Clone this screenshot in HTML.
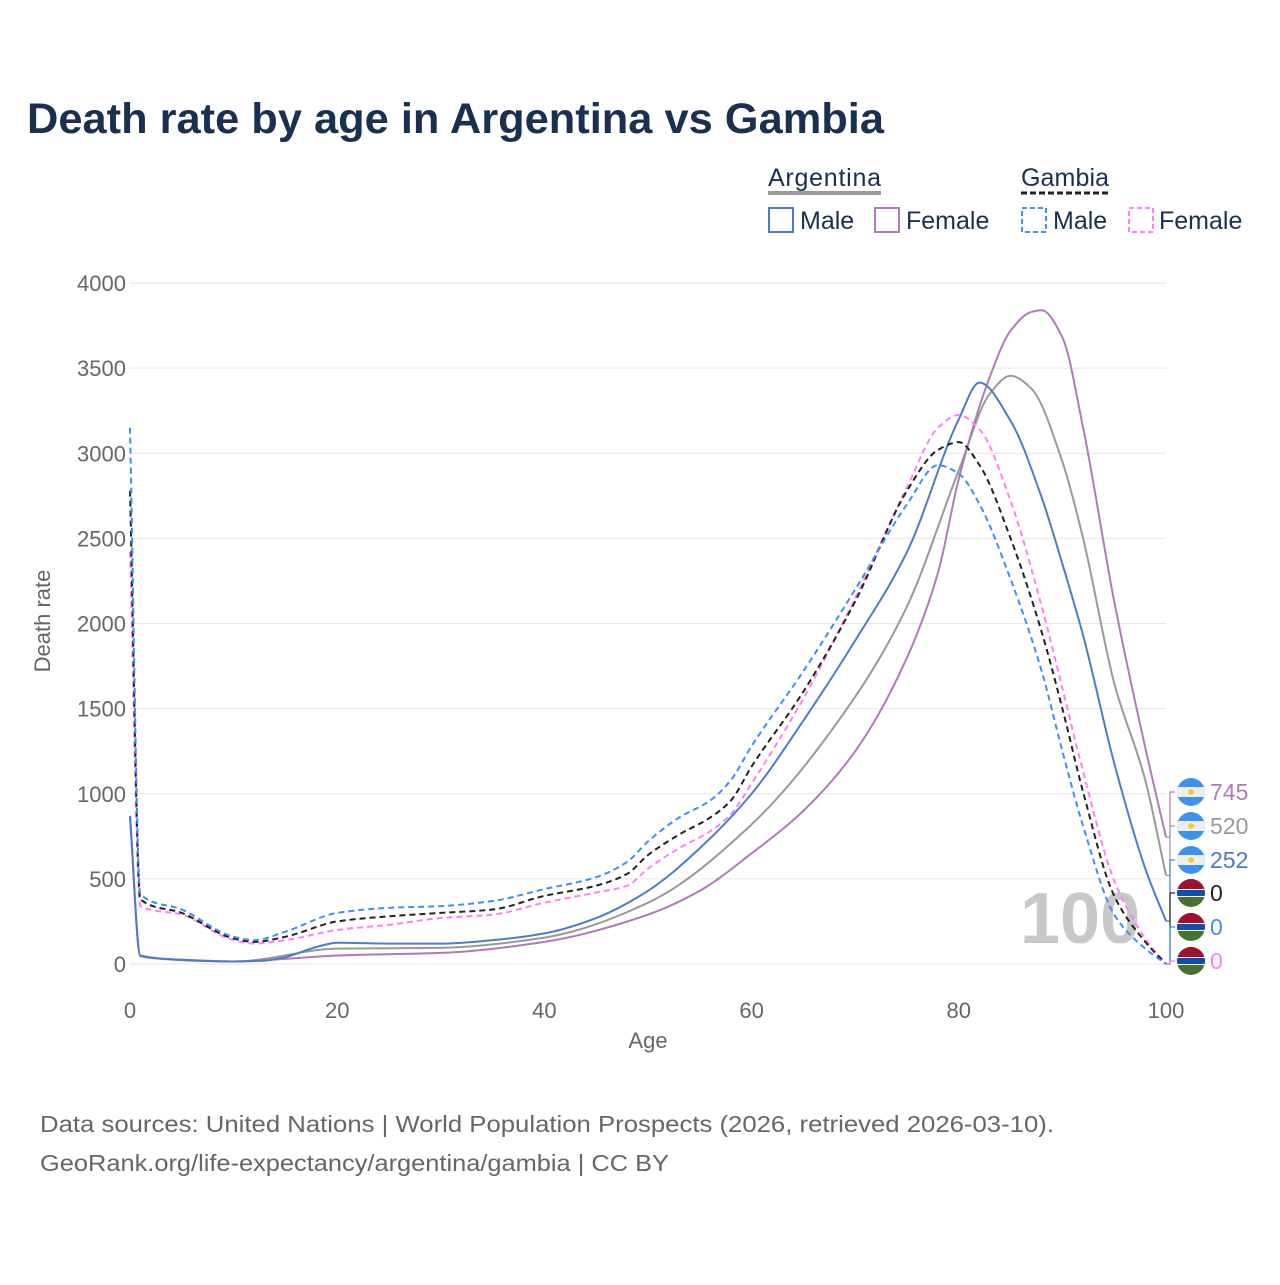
<!DOCTYPE html>
<html><head><meta charset="utf-8"><style>
body{margin:0;background:#fff;}
svg text{font-family:"Liberation Sans",sans-serif;}
</style></head><body>
<svg id="c" width="1280" height="1280" viewBox="0 0 1280 1280">
<defs><clipPath id="fc"><circle cx="0" cy="0" r="14"/></clipPath></defs>
<rect width="1280" height="1280" fill="#fff"/>
<text x="27" y="133" font-size="43" font-weight="bold" fill="#1a3050" textLength="857" lengthAdjust="spacingAndGlyphs">Death rate by age in Argentina vs Gambia</text>
<g font-size="25" fill="#1a3050">
<text x="768" y="186" textLength="113" fill="#1a3050">Argentina</text>
<line x1="768" y1="193" x2="881" y2="193" stroke="#999" stroke-width="4"/>
<text x="1021" y="186" textLength="88" fill="#1a3050">Gambia</text>
<line x1="1021" y1="193" x2="1109" y2="193" stroke="#222" stroke-width="3" stroke-dasharray="6,3"/>
<rect x="769" y="208" width="24" height="24" fill="none" stroke="#4c7cc9" stroke-width="2"/>
<text x="800" y="229" fill="#1a3050">Male</text>
<rect x="875" y="208" width="24" height="24" fill="none" stroke="#b07ab8" stroke-width="2"/>
<text x="906" y="229" fill="#1a3050">Female</text>
<rect x="1022" y="208" width="24" height="24" fill="none" stroke="#3d8ef7" stroke-width="2" stroke-dasharray="5,3"/>
<text x="1053" y="229" fill="#1a3050">Male</text>
<rect x="1129" y="208" width="24" height="24" fill="none" stroke="#ff80f0" stroke-width="2" stroke-dasharray="5,3"/>
<text x="1159" y="229" fill="#1a3050">Female</text>
</g>
<g id="grid"></g>
<text x="1020" y="943" font-size="72" font-weight="bold" fill="#c8c8c8">100</text>
<g id="lines"></g>
<g id="endlabels"></g>
<text x="648" y="1048" font-size="22" fill="#666" text-anchor="middle">Age</text>
<text x="50" y="621" font-size="22" fill="#666" text-anchor="middle" transform="rotate(-90 50 621)">Death rate</text>
<text x="40" y="1132" font-size="23" fill="#666" textLength="1014" lengthAdjust="spacingAndGlyphs">Data sources: United Nations | World Population Prospects (2026, retrieved 2026-03-10).</text>
<text x="40" y="1171" font-size="23" fill="#666" textLength="629" lengthAdjust="spacingAndGlyphs">GeoRank.org/life-expectancy/argentina/gambia | CC BY</text>
</svg>
<script>
const yTicks=[0,500,1000,1500,2000,2500,3000,3500,4000];
const xTicks=[0,20,40,60,80,100];
const argMaleAges=[0,1,5,10,13,15,18,20,25,30,35,40,45,50,55,60,65,70,75,80,82,85,88,90,92,95,98,100];
const argMale=[870,50,25,15,20,40,100,125,120,120,140,180,270,430,680,1000,1430,1900,2420,3200,3415,3190,2740,2350,1930,1180,560,252];
const argFemaleAges=[0,1,5,10,15,20,30,40,50,55,60,65,70,75,78,80,83,85,87,88,90,92,95,98,100];
const argFemale=[860,45,25,15,30,50,65,130,290,430,650,900,1250,1800,2300,2850,3450,3720,3830,3840,3680,3150,2130,1270,745];
const argTotalAges=[0,1,10,20,30,40,50,60,70,75,80,83,85,87,90,92,95,98,100];
const argTotal=[865,48,15,90,95,155,360,820,1570,2100,2900,3350,3455,3380,2950,2500,1650,1080,520];
const gamAges=[0,1,5,10,12,15,20,25,30,35,40,45,48,50,53,56,58,60,65,70,75,78,80,82,85,88,90,92,95,98,100];
const gamMale=[3150,410,320,160,140,190,300,330,340,370,440,510,600,720,860,960,1080,1280,1720,2200,2700,2930,2880,2700,2260,1720,1250,810,290,90,0];
const gamTotal=[2780,380,300,150,130,160,250,280,300,320,400,460,530,640,760,860,960,1160,1600,2130,2780,3020,3065,2930,2500,1950,1500,1010,400,130,0];
const gamFemale=[2420,340,290,140,120,140,200,230,270,290,360,420,460,560,680,780,880,1060,1560,2150,2800,3150,3225,3140,2720,2100,1620,1130,490,150,0];
const endValues=[745,520,252,0,0,0];
const NS='http://www.w3.org/2000/svg';
const X=a=>130+a*10.36, Y=v=>964-v*0.17025;
function mk(t,at,parent){const e=document.createElementNS(NS,t);for(const k in at)e.setAttribute(k,at[k]);(typeof parent==='string'?document.getElementById(parent):parent).appendChild(e);return e;}
yTicks.forEach(v=>{
 const l=mk('line',{x1:130,x2:1166,y1:Y(v),y2:Y(v),stroke:'#e6e6e6','stroke-width':1},'grid');
 
 
 const t=mk('text',{x:126,y:Y(v)+8,'font-size':22,fill:'#666','text-anchor':'end'},'grid');t.textContent=v;
 
 
});
xTicks.forEach(v=>{
 const t=mk('text',{x:X(v),y:1018,'font-size':22,fill:'#666','text-anchor':'middle'},'grid');t.textContent=v;
 
 
});
function path(ages,vals){
 const x=ages.map(X),y=vals.map(Y),n=x.length;
 const d=[],m=new Array(n);
 for(let i=0;i<n-1;i++)d.push((y[i+1]-y[i])/(x[i+1]-x[i]));
 m[0]=d[0];m[n-1]=d[n-2];
 for(let i=1;i<n-1;i++){
  if(d[i-1]*d[i]<=0)m[i]=0;
  else{const h0=x[i]-x[i-1],h1=x[i+1]-x[i],w1=2*h1+h0,w2=h1+2*h0;m[i]=(w1+w2)/(w1/d[i-1]+w2/d[i]);}
 }
 let s='M'+x[0]+','+y[0];
 for(let i=0;i<n-1;i++){const h=(x[i+1]-x[i])/3;
  s+=' C'+(x[i]+h)+','+(y[i]+m[i]*h)+' '+(x[i+1]-h)+','+(y[i+1]-m[i+1]*h)+' '+x[i+1]+','+y[i+1];}
 return s;}
const series=[
 [argTotalAges,argTotal,'#999','', 'line-argentina-total'],
 [argFemaleAges,argFemale,'#b07ab8','', 'line-argentina-female'],
 [argMaleAges,argMale,'#4c7cc9','', 'line-argentina-male'],
 [gamAges,gamFemale,'#ff80f0','6,4','line-gambia-female'],
 [gamAges,gamTotal,'#222','6,4','line-gambia-total'],
 [gamAges,gamMale,'#3d8ef7','6,4','line-gambia-male']];
series.forEach(s=>{
 const e=mk('path',{d:path(s[0],s[1]),fill:'none',stroke:s[2],'stroke-width':2,'stroke-dasharray':s[3]},'lines');
 
 
});
const labColors=['#b07ab8','#999','#4c7cc9','#222','#3d8ef7','#ff80f0'];
const labY=[792,826,860,893,927,961];
const ends=[argFemale[argFemale.length-1],argTotal[argTotal.length-1],argMale[argMale.length-1],gamTotal[gamTotal.length-1],gamMale[gamMale.length-1],gamFemale[gamFemale.length-1]];
ends.forEach((v,i)=>{
 const y=labY[i];
 mk('path',{d:'M1166,'+Y(v)+' L1170,'+Y(v)+' L1170,'+y+' L1175,'+y,fill:'none',stroke:labColors[i],'stroke-width':1.2},'endlabels');
 const g=mk('g',{transform:'translate(1191,'+y+')','clip-path':'url(#fc)'},'endlabels');
 
 
 if(i<3){
  mk('rect',{x:-14,y:-14,width:28,height:28,fill:'#3d92f0'},g);
  mk('rect',{x:-14,y:-5,width:28,height:10,fill:'#eee'},g);
  mk('circle',{cx:0,cy:0,r:3,fill:'#f6c93a'},g);
 }else{
  mk('rect',{x:-14,y:-14,width:28,height:28,fill:'#4a7030'},g);
  mk('rect',{x:-14,y:-14,width:28,height:10,fill:'#a01030'},g);
  mk('rect',{x:-14,y:-4,width:28,height:8,fill:'#fff'},g);
  mk('rect',{x:-14,y:-3,width:28,height:6,fill:'#0a4fa8'},g);
 }
 const t=mk('text',{x:1210,y:y+8,'font-size':23,fill:labColors[i]},'endlabels');t.textContent=endValues[i];
 
 
});
</script>
</body></html>
